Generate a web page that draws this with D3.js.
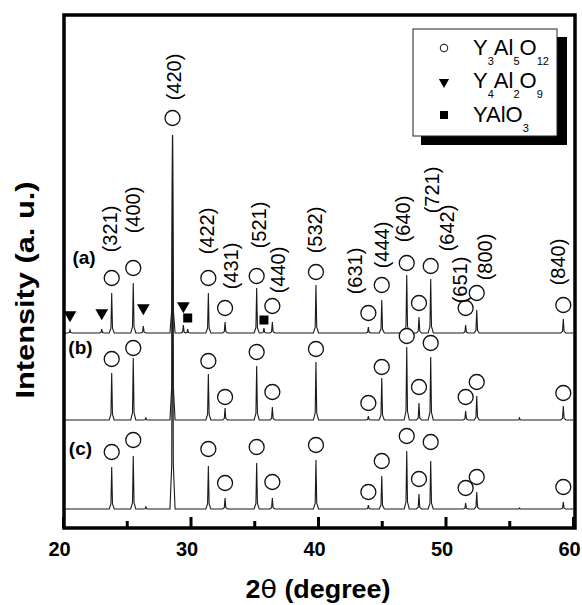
<!DOCTYPE html>
<html>
<head>
<meta charset="utf-8">
<script src="https://cdn.jsdelivr.net/npm/d3@7"></script>
<style>
  body { margin: 0; background: #fff; }
  text { font-family: "Liberation Sans", Arial, sans-serif; }
</style>
</head>
<body>
<div id="chart-area"></div>
<script>
// YAG reflections (2theta) and their labels
var peakTheta = [23.82, 25.51, 28.59, 31.40, 32.71, 35.19, 36.42, 39.84, 43.95, 45.0, 46.96, 47.92, 48.84, 51.58, 52.45, 59.24];
var hkl = ["(321)", "(400)", "(420)", "(422)", "(431)", "(521)", "(440)", "(532)", "(631)", "(444)", "(640)", "(721)", "(642)", "(651)", "(800)", "(840)"];

// peak heights above each baseline
var heightA = [40, 50, 198, 40, 11, 45, 11, 48, 6, 33, 58, 16, 54, 8, 23, 14];
var heightB = [47, 62, 285, 46, 12, 54, 13, 58, 4, 42, 73, 17, 63, 9, 24, 14];
var heightC = [42, 53, 374, 43, 11, 46, 11, 49, 4, 33, 58, 15, 48, 6, 17, 7];

// circle marker levels (absolute intensity), null = no marker
var circleA = [250, 260, 410, 250, 220, 252, 222, 256, 215, 243, 265, 225, 262, 220, 235, 223];
var circleB = [169, 180, null, 167, 131, 176, 136, 179, 125, 161, 192, 141, 185, 131, 146, 135];
var circleC = [76, 88, null, 79, 45, 81, 46, 83, 36, 67, 92, 49, 86, 40, 51, 41];

// hkl label centres
var labelTheta = [23.69, 25.47, 28.73, 31.27, 33.15, 35.40, 36.89, 39.76, 42.90, 45.0, 46.69, 48.94, 50.09, 51.14, 53.10, 58.85];
var labelInt = [299, 318, 451, 297, 262, 303, 258, 298, 257, 283, 309, 338, 300, 248, 271, 266];

// impurity phases in pattern (a)
var y4Theta = [20.55, 23.04, 26.3, 29.44];
var y4Height = [3, 4, 7, 8];
var y4Mark = [213, 215, 220, 222];
var yapTheta = [29.78, 35.76];
var yapHeight = [4, 5];
var yapMark = [210, 208];

// small extra bumps in (b) and (c)
var extraTheta = [26.5, 55.8];
var extraB = [2, 2];
var extraC = [2, 1];

var sampleNames = ["(a)", "(b)", "(c)"];
var baselines = [195, 108, 19];
var nameTheta = [21.65, 21.37, 21.37];
var nameInt = [271, 181, 80];

var legendNames = [
    [["Y", ""], ["3", "s"], ["Al", ""], ["5", "s"], ["O", ""], ["12", "s"]],
    [["Y", ""], ["4", "s"], ["Al", ""], ["2", "s"], ["O", ""], ["9", "s"]],
    [["YAlO", ""], ["3", "s"]]
];

var xTicks = [20, 30, 40, 50, 60];
var xMinor = [25, 35, 45, 55];

var W = 582, H = 605;
var svg = d3.select("#chart-area").append("svg")
    .attr("width", W)
    .attr("height", H);

var x = d3.scaleLinear().domain([20, 60]).range([63, 573]);
var y = d3.scaleLinear().domain([0, 513]).range([528, 15]);

function buildPattern(base, thetas, heights) {
    var pk = thetas.map((t, i) => [t, heights[i]]).sort((a, b) => a[0] - b[0]);
    var pts = [[20, base]];
    pk.forEach((p) => {
        pts.push([p[0] - 0.2, base]);
        pts.push([p[0] - 0.06, base + p[1] * 0.12]);
        pts.push([p[0], base + p[1]]);
        pts.push([p[0] + 0.06, base + p[1] * 0.12]);
        pts.push([p[0] + 0.2, base]);
    });
    pts.push([60, base]);
    return pts;
}

var patA = buildPattern(baselines[0], peakTheta.concat(y4Theta, yapTheta), heightA.concat(y4Height, yapHeight));
var patB = buildPattern(baselines[1], peakTheta.concat(extraTheta), heightB.concat(extraB));
var patC = buildPattern(baselines[2], peakTheta.concat(extraTheta), heightC.concat(extraC));

var line = d3.line()
    .x((d) => x(d[0]))
    .y((d) => y(d[1]));

svg.selectAll("path.pattern")
    .data([patC, patB, patA])
    .enter()
    .append("path")
    .attr("class", "pattern")
    .attr("d", line)
    .attr("fill", "none")
    .attr("stroke", "#1a1a1a")
    .attr("stroke-width", 1.1);

// circle markers
[circleA, circleB, circleC].forEach((arr) => {
    svg.append("g").selectAll("circle")
        .data(peakTheta.map((t, i) => [t, arr[i]]).filter((d) => d[1] !== null))
        .enter()
        .append("circle")
        .attr("cx", (d) => x(d[0]))
        .attr("cy", (d) => y(d[1]))
        .attr("r", 7.5)
        .attr("fill", "#fff")
        .attr("stroke", "#111")
        .attr("stroke-width", 1.3);
});

// triangles (Y4Al2O9)
var tri = d3.symbol().type(d3.symbolTriangle).size(70);
svg.append("g").selectAll("path")
    .data(y4Theta.map((t, i) => [t, y4Mark[i]]))
    .enter()
    .append("path")
    .attr("d", tri)
    .attr("transform", (d) => "translate(" + x(d[0]) + "," + y(d[1]) + ") rotate(180)")
    .attr("fill", "#000");

// squares (YAlO3)
svg.append("g").selectAll("rect")
    .data(yapTheta.map((t, i) => [t, yapMark[i]]))
    .enter()
    .append("rect")
    .attr("x", (d) => x(d[0]) - 4.5)
    .attr("y", (d) => y(d[1]) - 4.5)
    .attr("width", 9)
    .attr("height", 9)
    .attr("fill", "#000");

// hkl labels
svg.append("g").selectAll("text")
    .data(hkl)
    .enter()
    .append("text")
    .attr("transform", (d, i) => "translate(" + x(labelTheta[i]) + "," + y(labelInt[i]) + ") rotate(-90)")
    .attr("text-anchor", "middle")
    .attr("dominant-baseline", "central")
    .attr("font-size", "20px")
    .attr("fill", "#000")
    .text((d) => d);

// sample names
svg.append("g").selectAll("text")
    .data(sampleNames)
    .enter()
    .append("text")
    .attr("x", (d, i) => x(nameTheta[i]))
    .attr("y", (d, i) => y(nameInt[i]))
    .attr("text-anchor", "middle")
    .attr("dominant-baseline", "central")
    .attr("font-size", "19px")
    .attr("font-weight", "bold")
    .text((d) => d);

// frame
svg.append("rect")
    .attr("x", 64)
    .attr("y", 15)
    .attr("width", 511)
    .attr("height", 513)
    .attr("fill", "none")
    .attr("stroke", "#000")
    .attr("stroke-width", 3.5);

// axes
var major = d3.axisBottom(x).tickValues(xTicks).tickSize(-11).tickPadding(14);
var gx = svg.append("g")
    .attr("transform", "translate(0," + 528 + ")")
    .call(major);
gx.select(".domain").remove();
gx.selectAll("line").attr("stroke", "#000").attr("stroke-width", 3);
gx.selectAll("text")
    .attr("font-size", "20px")
    .attr("font-weight", "bold")
    .attr("font-family", "Liberation Sans, Arial, sans-serif")
    .attr("fill", "#000")
    .attr("dx", -4);

var minor = d3.axisBottom(x).tickValues(xMinor).tickSize(-7).tickFormat("");
var gm = svg.append("g")
    .attr("transform", "translate(0," + 528 + ")")
    .call(minor);
gm.select(".domain").remove();
gm.selectAll("line").attr("stroke", "#000").attr("stroke-width", 3);

// axis titles
var xt = svg.append("text")
    .attr("x", 318)
    .attr("y", 598)
    .attr("text-anchor", "middle")
    .attr("font-size", "25px")
    .attr("font-weight", "bold")
    .attr("textLength", 145)
    .attr("lengthAdjust", "spacingAndGlyphs");
xt.append("tspan").text("2");
xt.append("tspan").attr("font-family", "DejaVu Sans").attr("font-weight", "normal").text("θ");
xt.append("tspan").text(" (degree)");

svg.append("text")
    .attr("transform", "translate(34,290) rotate(-90)")
    .attr("text-anchor", "middle")
    .attr("font-size", "25px")
    .attr("font-weight", "bold")
    .attr("textLength", 217)
    .attr("lengthAdjust", "spacingAndGlyphs")
    .text("Intensity (a. u.)");

// legend
var lg = svg.append("g");
lg.append("rect")
    .attr("x", 421).attr("y", 37)
    .attr("width", 146).attr("height", 108)
    .attr("fill", "#000");
lg.append("rect")
    .attr("x", 413).attr("y", 29)
    .attr("width", 144).attr("height", 107)
    .attr("fill", "#fff")
    .attr("stroke", "#222")
    .attr("stroke-width", 1);

var rowY = [48, 82, 115];
lg.append("circle").attr("cx", 444).attr("cy", rowY[0]).attr("r", 3.8)
    .attr("fill", "#fff").attr("stroke", "#111").attr("stroke-width", 1);
lg.append("path").attr("d", d3.symbol().type(d3.symbolTriangle).size(45))
    .attr("transform", "translate(444," + rowY[1] + ") rotate(180)").attr("fill", "#000");
lg.append("rect").attr("x", 440).attr("y", rowY[2] - 4).attr("width", 8).attr("height", 8).attr("fill", "#000");

var baseY = [55, 88, 122];
legendNames.forEach((parts, r) => {
    var t = lg.append("text")
        .attr("x", 473)
        .attr("y", baseY[r])
        .attr("font-size", "22px");
    parts.forEach((p, k) => {
        if (p[1] === "s") {
            t.append("tspan").attr("font-size", "11px").attr("dy", 10).text(p[0]);
        } else {
            t.append("tspan").attr("dy", k === 0 ? 0 : -10).text(p[0]);
        }
    });
});
</script>
</body>
</html>
